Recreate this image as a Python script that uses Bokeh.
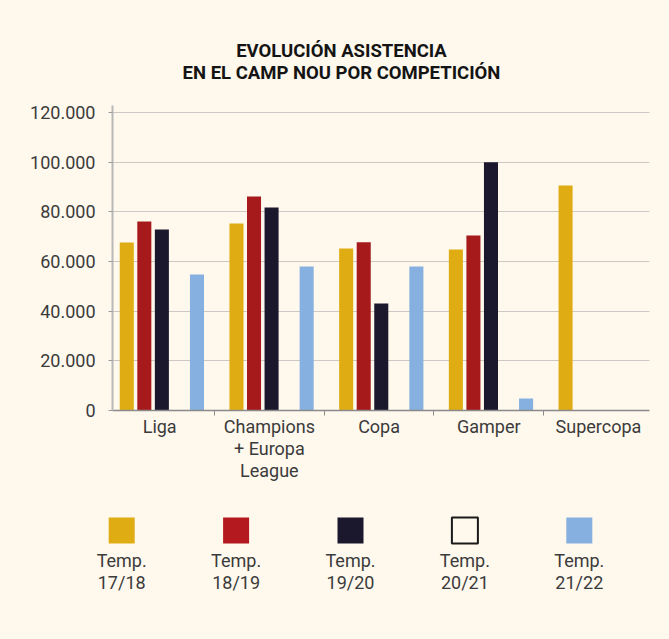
from bokeh.plotting import figure
from bokeh.layouts import column, row
from bokeh.models import Range1d, FixedTicker, FactorRange
from bokeh.core.properties import value
from bokeh.embed import file_html
from bokeh.resources import INLINE

# ---------------- data ----------------
title_lines = ["EVOLUCIÓN ASISTENCIA", "EN EL CAMP NOU POR COMPETICIÓN"]
categories = ["Liga", "Champions\n+ Europa\nLeague", "Copa", "Gamper", "Supercopa"]
season_keys = ["17/18", "18/19", "19/20", "20/21", "21/22"]
season_prefix = "Temp."
t1718 = [67600, 75300, 65200, 64800, 90600]
t1819 = [76100, 86200, 67700, 70500, 0]
t1920 = [72900, 81700, 43100, 100000, 0]
t2021 = [0, 0, 0, 0, 0]
t2122 = [54800, 58000, 58000, 4800, 0]
y_ticks = [0, 20000, 40000, 60000, 80000, 100000, 120000]
y_tick_labels = ["0", "20.000", "40.000", "60.000", "80.000", "100.000", "120.000"]

# ---------------- style ----------------
BG = "#FEF8ED"
TXT = "#3b3b3b"
FONT = "Roboto"
colors = ["#DFAD13", "#A61A1B", "#1B172D", BG, "#86B0DF"]
legend_colors = ["#DFAD13", "#B3191E", "#1B172D", BG, "#86B0DF"]
series = [t1718, t1819, t1920, t2021, t2122]
W = 669


def base(fig):
    fig.background_fill_color = BG
    fig.border_fill_color = BG
    fig.outline_line_color = None
    return fig


# ---------------- title ----------------
TH = 95
tf = base(figure(width=W, height=TH, x_range=Range1d(0, W), y_range=Range1d(TH, 0),
                 x_axis_type=None, y_axis_type=None, min_border=0,
                 output_backend="svg", toolbar_location=None))
tf.grid.visible = False
for i, line in enumerate(title_lines):
    tf.text(x=[341], y=[50 + 22 * i], text=[line], text_align="center",
            text_baseline="alphabetic", text_font=value(FONT), text_font_style="bold",
            text_font_size="18.5px", text_color="#141414")

# ---------------- main chart ----------------
p = base(figure(width=W, height=395, x_range=Range1d(0.07, 4.965),
                y_range=Range1d(0, 122800), min_border_left=112, min_border_right=20,
                min_border_top=10, min_border_bottom=80,
                output_backend="svg", toolbar_location=None))
n = len(categories)
for k, (vals, col) in enumerate(zip(series, colors)):
    xs = [i + 0.52 + 0.16 * (k - 2) for i in range(n)]
    p.vbar(x=xs, top=vals, width=0.128, fill_color=col, line_color=None)

p.xgrid.visible = False
p.ygrid.ticker = FixedTicker(ticks=y_ticks)
p.ygrid.grid_line_color = "#9a9a9a"
p.ygrid.grid_line_dash = "1 1"
p.ygrid.grid_line_width = 1

ya = p.yaxis[0]
ya.ticker = FixedTicker(ticks=y_ticks)
ya.major_label_overrides = {t: l for t, l in zip(y_ticks, y_tick_labels)}
ya.axis_line_color = "#b8b8b8"
ya.axis_line_width = 2
ya.major_tick_line_color = "#9a9a9a"
ya.major_tick_out = 4
ya.major_tick_in = 0
ya.minor_tick_line_color = None
ya.major_label_standoff = 13
ya.major_label_text_font = FONT
ya.major_label_text_font_size = "18px"
ya.major_label_text_color = TXT

xa = p.xaxis[0]
centers = [i + 0.5 for i in range(n)]
xa.ticker = FixedTicker(ticks=centers, minor_ticks=[i for i in range(1, n)])
xa.major_label_overrides = {c: l for c, l in zip(centers, categories)}
xa.axis_line_color = "#8a8a8a"
xa.axis_line_width = 1.5
xa.major_tick_line_color = None
xa.major_tick_out = 0
xa.major_tick_in = 0
xa.minor_tick_line_color = "#8a8a8a"
xa.minor_tick_out = 5
xa.minor_tick_in = 0
xa.major_label_standoff = 0
xa.major_label_text_font = FONT
xa.major_label_text_font_size = "18px"
xa.major_label_text_line_height = 1.05
xa.major_label_text_color = TXT

# ---------------- legend ----------------
LH = 149
lg = base(figure(width=W, height=LH, x_range=FactorRange(*season_keys),
                 y_range=Range1d(LH, 0), x_axis_type=None, y_axis_type=None,
                 min_border_left=64, min_border_right=33, min_border_top=0, min_border_bottom=0,
                 output_backend="svg", toolbar_location=None))
lg.grid.visible = False
lg.scatter(x=season_keys, y=[40] * 5, marker="square", size=26, fill_color=legend_colors,
           line_color="#1a1a1a", line_width=2,
           line_alpha=[1 if c == BG else 0 for c in legend_colors])
lg.text(x=season_keys, y=[59] * 5, text=[season_prefix] * 5, text_align="center",
        text_baseline="top", text_font=value(FONT), text_font_size="18px", text_color=TXT)
lg.text(x=season_keys, y=[81] * 5, text=season_keys, text_align="center",
        text_baseline="top", text_font=value(FONT), text_font_size="18px", text_color=TXT)

layout = column(row(tf), p, row(lg), spacing=0, styles={"background-color": BG})
open("out.html", "w").write(file_html(layout, INLINE))
